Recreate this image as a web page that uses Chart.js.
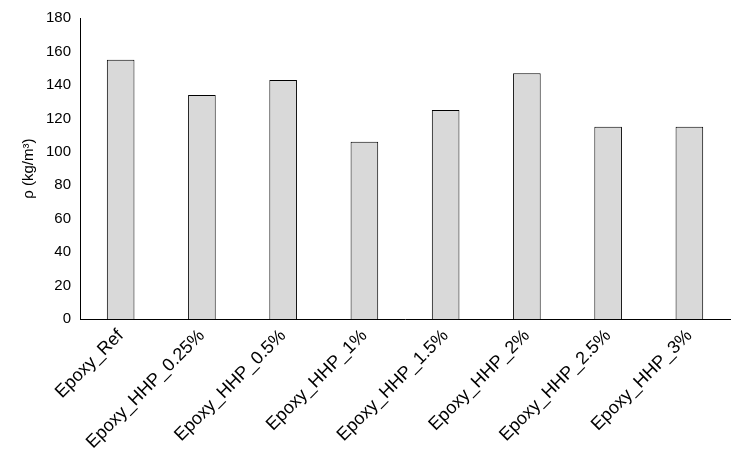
<!DOCTYPE html>
<html>
<head>
<meta charset="utf-8">
<script src="https://cdn.jsdelivr.net/npm/chart.js@4"></script>
<style>
  html, body { margin: 0; padding: 0; background: #fff; }
  #wrap { width: 742px; height: 461px; }
</style>
</head>
<body>
<div id="wrap"><canvas id="c"></canvas></div>
<script>
const categories = ["Epoxy_Ref", "Epoxy_HHP_0.25%", "Epoxy_HHP_0.5%", "Epoxy_HHP_1%",
  "Epoxy_HHP_1.5%", "Epoxy_HHP_2%", "Epoxy_HHP_2.5%", "Epoxy_HHP_3%"];
const density = [155, 134, 143, 106, 125, 147, 115, 115];
const yTicks = [0, 20, 40, 60, 80, 100, 120, 140, 160, 180];

new Chart(document.getElementById("c"), {
  type: "bar",
  data: {
    labels: categories,
    datasets: [{
      data: density,
      backgroundColor: "#d9d9d9",
      borderColor: "#000",
      borderWidth: 1,
      categoryPercentage: 1,
      barPercentage: 0.34
    }]
  },
  options: {
    responsive: true,
    maintainAspectRatio: false,
    animation: false,
    layout: { padding: { top: 18, right: 12, left: 16, bottom: 2 } },
    plugins: { legend: { display: false }, tooltip: { enabled: false } },
    scales: {
      x: {
        grid: { display: false, drawTicks: false },
        border: { color: "#000" },
        ticks: {
          color: "#000", font: { family: "Liberation Sans, Arial", size: 18 },
          maxRotation: 45, minRotation: 45, padding: 6
        }
      },
      y: {
        min: 0, max: 180,
        afterBuildTicks: axis => { axis.ticks = yTicks.map(v => ({ value: v })); },
        grid: { display: false, drawTicks: true, tickLength: 5, tickColor: "#000" },
        border: { color: "#000" },
        ticks: { color: "#000", font: { family: "Liberation Sans, Arial", size: 15 }, padding: 4 },
        title: {
          display: true, text: "ρ (kg/m³)", color: "#000",
          font: { family: "Liberation Sans, Arial", size: 15 }
        }
      }
    }
  }
});
</script>
</body>
</html>
